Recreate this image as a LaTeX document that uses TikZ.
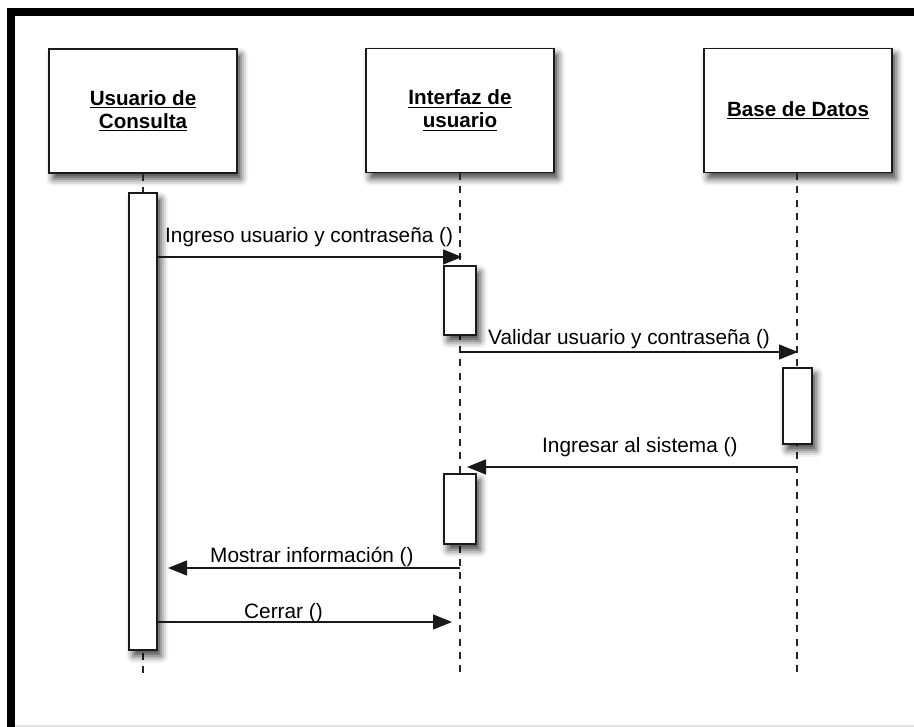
\documentclass[tikz,border=0pt]{standalone}
\usepackage{fontspec}
\setmainfont{Liberation Sans}
\usetikzlibrary{arrows.meta,shadows.blur}

% underline with a heavier rule than \underline gives
\newcommand\hdul[1]{\vtop{\hbox{#1}\kern1.5pt\hrule height1.3pt}}

\begin{document}
\begin{tikzpicture}[x=1pt,y=-1pt,
  softshadow/.style={blur shadow={shadow xshift=4pt, shadow yshift=-6pt,
      shadow blur radius=7pt, shadow opacity=75}},
  headbox/.style={draw=black!90, line width=1.4pt, fill=white,
      minimum width=188pt, minimum height=124pt, inner sep=0pt,
      font=\bfseries\fontsize{20.6}{23}\selectfont, align=center, softshadow},
  actbox/.style={draw=black!90, line width=1.4pt, fill=white, inner sep=0pt,
      softshadow},
  lifeline/.style={dash pattern=on 7pt off 6.3pt, line width=1.5pt, black!85},
  msg/.style={line width=1.3pt, black!90, -{Triangle[length=19pt,width=15pt]}},
  msglabel/.style={font=\fontsize{20.8}{24}\selectfont, inner sep=0pt,
      anchor=base west},
]
\useasboundingbox (0,0) rectangle (914,727);

% frame
\fill[black] (7,8) rectangle (914,16);
\fill[black] (7,8) rectangle (15,727);
\draw[black!12, line width=1.2pt] (15,726) -- (914,726);

% participants
\node[headbox] (usr) at (143,111) {\hdul{Usuario de}\\\hdul{Consulta}};
\node[headbox] (ui)  at (460,110.5) {\hdul{Interfaz de}\\\hdul{usuario}};
\node[headbox] (db)  at (798,110.5) {\hdul{Base de Datos}};

% lifeline ends
\coordinate (usrend) at (143,677);
\coordinate (uiend)  at (460,677);
\coordinate (dbend)  at (797,677);

\draw[lifeline] (usr.south) -- (usrend);
\draw[lifeline] (ui.south) -- (uiend);
\draw[lifeline] (db.south -| dbend) -- (dbend);

% activation bars
\node[actbox, minimum width=28pt, minimum height=457pt] (act1) at (143,421.5) {};
\node[actbox, minimum width=32pt, minimum height=69pt]  (act2) at (460,300.5) {};
\node[actbox, minimum width=29pt, minimum height=76pt]  (act3) at (797.5,406) {};
\node[actbox, minimum width=32pt, minimum height=70pt]  (act4) at (460,509) {};

% message end points
\coordinate (m1e) at (462,257);
\coordinate (m2s) at (460,352);
\coordinate (m2e) at (798,352);
\coordinate (m3s) at (797,467);
\coordinate (m3e) at (467,467);
\coordinate (m4s) at (460,568);
\coordinate (m4e) at (168,568);
\coordinate (m5e) at (452,622);

% messages
\draw[msg] (act1.east |- m1e) -- (m1e);
\node[msglabel] (l1) at (165,243) {Ingreso usuario y contraseña ()};

\draw[msg] (m2s) -- (m2e);
\node[msglabel] (l2) at (488,345) {Validar usuario y contraseña ()};

\draw[msg] (m3s) -- (m3e);
\node[msglabel] (l3) at (542,453) {Ingresar al sistema ()};

\draw[msg] (m4s) -- (m4e);
\node[msglabel] (l4) at (210,562) {Mostrar información ()};

\draw[msg] (act1.east |- m5e) -- (m5e);
\node[msglabel] (l5) at (244,618) {Cerrar ()};
\end{tikzpicture}
\end{document}
